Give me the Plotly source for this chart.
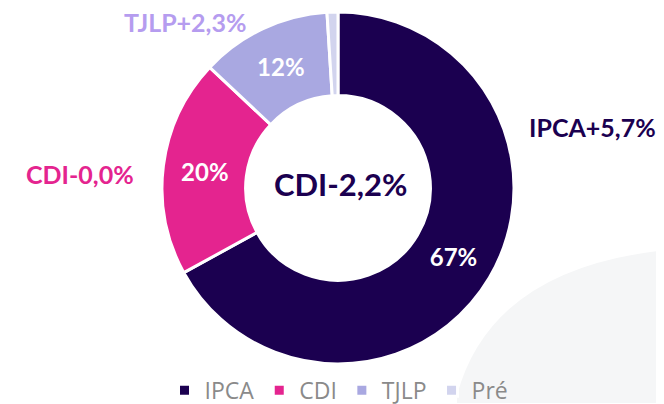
import plotly.graph_objects as go

labels = ["IPCA", "CDI", "TJLP", "Pré"]
values = [67, 20, 12, 1]
colors = ["#1B0050", "#E4248F", "#A9A8E1", "#D2D4EE"]
slice_text = ["67%", "20%", "12%", ""]

outer_labels = ["IPCA+5,7%", "CDI-0,0%", "TJLP+2,3%"]
outer_colors = ["#1B0050", "#E4248F", "#B59CEF"]
outer_px = [(592, 130), (80, 178), (185, 22)]
center_label = "CDI-2,2%"

W, H = 664, 404
OX, OY = 8, 8  # page offset of the plot div


def px(x, y):
    return (x - OX) / W, 1 - (y - OY) / H


fig = go.Figure()
fig.add_trace(go.Pie(
    labels=labels, values=values, text=slice_text,
    textinfo="text", textposition="inside", insidetextorientation="horizontal",
    textfont=dict(family="Lato", size=24, color="white", weight="bold"),
    marker=dict(colors=colors, line=dict(color="white", width=3)),
    hole=0.525, sort=False, direction="clockwise", rotation=0,
    domain=dict(x=[(158 - OX) / W, (518 - OX) / W], y=[1 - (372 - OY) / H, 1 - (12 - OY) / H]),
    hoverinfo="label+percent",
))

for txt, col, (x, y) in zip(outer_labels, outer_colors, outer_px):
    ax, ay = px(x, y)
    fig.add_annotation(x=ax, y=ay, xref="paper", yref="paper", text=txt, showarrow=False,
                       xanchor="center", yanchor="middle",
                       font=dict(family="Lato", size=25, color=col, weight="bold"))

cx, cy = px(340, 188)
fig.add_annotation(x=cx, y=cy, xref="paper", yref="paper", text=center_label,
                   showarrow=False, xanchor="center", yanchor="middle",
                   font=dict(family="Lato", size=31, color="#1B0050", weight="bold"))

# faint background swoosh
p0 = px(457, 404)
pc = px(492, 272)
p1 = px(672, 255)
pe = px(672, 412)
fig.add_shape(type="path", xref="paper", yref="paper",
              path=f"M {p0[0]},{pe[1]} L {p0[0]},{p0[1]} Q {pc[0]},{pc[1]} {p1[0]},{p1[1]} L {pe[0]},{pe[1]} Z",
              fillcolor="#F5F6F7", line=dict(width=0), layer="below")

lx, ly = px(339, 399)
fig.update_layout(
    width=W, height=H, margin=dict(l=0, r=0, t=0, b=0),
    paper_bgcolor="white", plot_bgcolor="white",
    showlegend=True,
    legend=dict(orientation="h", x=lx, xanchor="center", y=ly, yanchor="middle",
                font=dict(family="Open Sans", size=23, color="#8A8A8A"),
                bgcolor="rgba(0,0,0,0)", itemclick=False),
)

fig.write_html("out.html")
